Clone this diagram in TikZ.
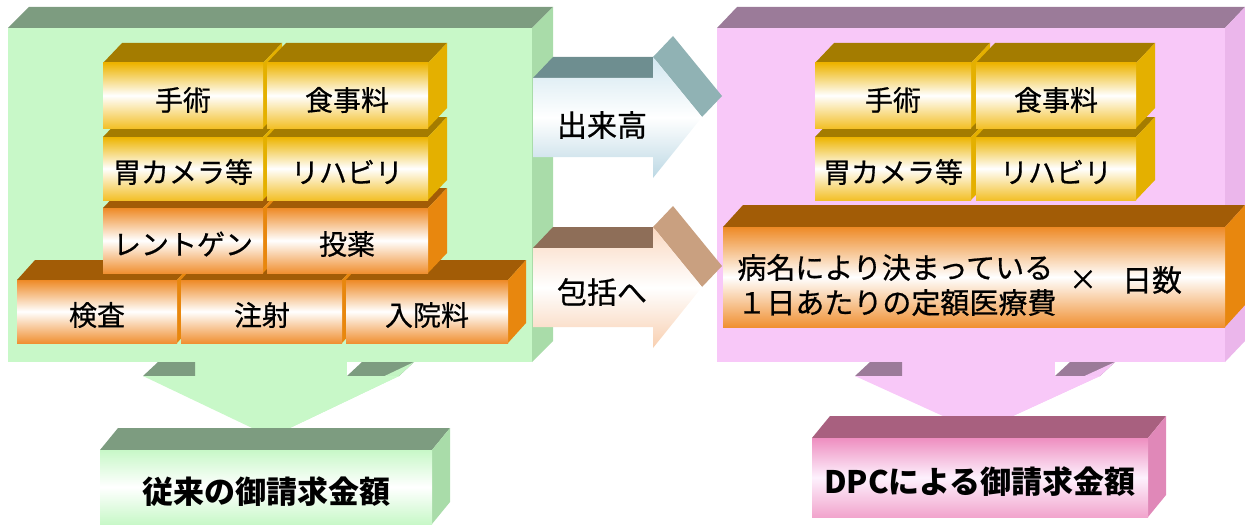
\documentclass[tikz,border=0pt]{standalone}
\usepackage{fontspec}
\setmainfont{Noto Sans CJK JP}
\newfontfamily\jpmed{Noto Sans CJK JP}[FakeBold=0.6]
\usepackage{tikz}
\definecolor{yelA}{HTML}{EDB400}
\definecolor{yelB}{HTML}{F3C028}
\definecolor{yelT}{HTML}{A47C00}
\definecolor{yelS}{HTML}{E4B000}
\definecolor{orgA}{HTML}{EE8A26}
\definecolor{orgB}{HTML}{F09032}
\definecolor{orgT}{HTML}{A25C06}
\definecolor{orgS}{HTML}{E8870E}
\definecolor{grnF}{HTML}{C8F8C8}
\definecolor{grnT}{HTML}{7D9C80}
\definecolor{grnS}{HTML}{A9DCA9}
\definecolor{pnkF}{HTML}{F8C8F8}
\definecolor{pnkT}{HTML}{9B7B99}
\definecolor{pnkS}{HTML}{EBB6EB}
\definecolor{dpcA}{HTML}{EE8EC0}
\definecolor{dpcT}{HTML}{A8607F}
\definecolor{dpcS}{HTML}{E088B8}
\definecolor{bluA}{HTML}{D2E7F0}
\definecolor{bluB}{HTML}{BCD8E4}
\definecolor{bluT}{HTML}{6E8E90}
\definecolor{bluS}{HTML}{90B2B4}
\definecolor{pchA}{HTML}{FAD8C0}
\definecolor{pchB}{HTML}{F8CFB0}
\definecolor{pchT}{HTML}{8E6E58}
\definecolor{pchS}{HTML}{C9A080}
\tikzset{
  yelfront/.style={top color=yelA,bottom color=yelB,middle color=white},
  yeltop/.style={fill=yelT},
  yelside/.style={fill=yelS},
  orgfront/.style={top color=orgA,bottom color=orgB,middle color=white},
  orgtop/.style={fill=orgT},
  orgside/.style={fill=orgS},
  grnfront/.style={fill=grnF},
  grntop/.style={fill=grnT},
  grnside/.style={fill=grnS},
  pnkfront/.style={fill=pnkF},
  pnktop/.style={fill=pnkT},
  pnkside/.style={fill=pnkS},
  gboxfront/.style={top color=grnF,bottom color=grnF,middle color=white},
  gboxtop/.style={fill=grnT},
  gboxside/.style={fill=grnS},
  pboxfront/.style={top color=dpcA,bottom color=dpcA!80,middle color=pnkF!25},
  pboxtop/.style={fill=dpcT},
  pboxside/.style={fill=dpcS},
  lbl/.style={inner sep=0pt,font=\jpmed\fontsize{14}{16}\selectfont},
  big/.style={inner sep=0pt,font=\fontsize{15.5}{18}\selectfont\bfseries}
}
% kind, x1, y1, x2, y2, depth x, depth y
\newcommand{\cuboid}[7]{%
  \path[#1top] (#2,#3) -- (#2+#6,#3-#7) -- (#4+#6,#3-#7) -- (#4,#3) -- cycle;
  \path[#1side] (#4,#3) -- (#4+#6,#3-#7) -- (#4+#6,#5-#7) -- (#4,#5) -- cycle;
  \path[#1front] (#2,#3) rectangle (#4,#5);
}

\begin{document}
\begin{tikzpicture}[x=0.5pt,y=-0.5pt]
\useasboundingbox (0,0) rectangle (1245,524);
% down arrows
\fill[grnF] (195,340) rectangle (347,377);
\fill[grnT] (143,376) -- (158,362) -- (195,362) -- (195,376) -- cycle;
\fill[grnT] (347,376) -- (362,362) -- (414,362) -- (399,376) -- cycle;
\fill[grnF!85!grnS] (399,376) -- (414,362) -- (286,423) -- (271,437) -- cycle;
\fill[grnF] (143,376) -- (399,376) -- (271,437) -- cycle;
\fill[pnkF] (902,340) rectangle (1055,377);
\fill[pnkT] (855,376) -- (870,362) -- (902,362) -- (902,376) -- cycle;
\fill[pnkT] (1055,376) -- (1070,362) -- (1115,362) -- (1100,376) -- cycle;
\fill[pnkF!85!pnkS] (1100,376) -- (1115,362) -- (993,418) -- (978,432) -- cycle;
\fill[pnkF] (855,376) -- (1100,376) -- (978,432) -- cycle;
% panels
\cuboid{grn}{8}{28}{532}{362}{21}{21}
\cuboid{pnk}{717}{28}{1225}{362}{20}{21}
% left blocks
\cuboid{org}{17}{280}{177}{343}{18}{20}
\cuboid{org}{181}{280}{342}{343}{18}{20}
\cuboid{org}{346}{280}{508}{343}{18}{20}
\cuboid{org}{103}{208}{263}{273}{19}{20}
\cuboid{org}{267}{208}{428}{273}{19}{20}
\cuboid{yel}{103}{137}{263}{200}{19}{20}
\cuboid{yel}{267}{137}{428}{200}{19}{20}
\cuboid{yel}{103}{63}{263}{128}{19}{20}
\cuboid{yel}{267}{63}{428}{128}{19}{20}
% right blocks
\cuboid{org}{723}{227}{1225}{327}{20}{22}
\cuboid{yel}{815}{137}{971}{200}{19}{20}
\cuboid{yel}{976}{137}{1136}{200}{19}{20}
\cuboid{yel}{815}{63}{971}{128}{19}{20}
\cuboid{yel}{976}{63}{1136}{128}{19}{20}
% side arrows
\fill[bluT] (533,78) -- (553,57) -- (655,57) -- (655,78) -- cycle;
\fill[bluS] (653,57) -- (673,36) -- (722,96) -- (702,117) -- cycle;
\shade[top color=bluA,bottom color=bluB,middle color=white]
  (533,78) -- (653,78) -- (653,57) -- (702,117) -- (653,178) -- (653,157) -- (533,157) -- cycle;
\fill[pchT] (533,248) -- (553,227) -- (655,227) -- (655,248) -- cycle;
\fill[pchS] (653,227) -- (673,206) -- (722,266) -- (702,287) -- cycle;
\shade[top color=pchA,bottom color=pchB,middle color=white]
  (533,248) -- (653,248) -- (653,227) -- (702,287) -- (653,348) -- (653,327) -- (533,327) -- cycle;
% result boxes
\cuboid{gbox}{100}{450}{432}{524}{18}{22}
\cuboid{pbox}{812}{438}{1148}{517}{18}{22}
% labels
\node[lbl] (lshujutsu) at (183,100) {手術};
\node[lbl] (lshokuji) at (347,100) {食事料};
\node[lbl] (lcamera) at (183,172) {胃カメラ等};
\node[lbl] (lrehab) at (347,172) {リハビリ};
\node[lbl] (lxray) at (183,244) {レントゲン};
\node[lbl] (ltoyaku) at (347,244) {投薬};
\node[lbl] (lkensa) at (97,315) {検査};
\node[lbl] (lchusha) at (262,315) {注射};
\node[lbl] (lnyuin) at (427,315) {入院料};
\node[lbl] (rshujutsu) at (893,100) {手術};
\node[lbl] (rshokuji) at (1056,100) {食事料};
\node[lbl] (rcamera) at (893,172) {胃カメラ等};
\node[lbl] (rrehab) at (1056,172) {リハビリ};
\node[lbl, anchor=west, align=left, font=\jpmed\fontsize{14.5}{17.5}\selectfont] (teigaku) at (737,285) {病名により決まっている\\１日あたりの定額医療費};
\node[lbl] (kakeru) at (1083,280) {×};
\node[lbl, font=\jpmed\fontsize{15}{17}\selectfont] (nissu) at (1152,280) {日数};
\node[lbl, font=\jpmed\fontsize{15}{17}\selectfont] (dekidaka) at (602,125) {出来高};
\node[lbl, font=\jpmed\fontsize{15}{17}\selectfont] (hokatsu) at (602,292) {包括へ};
\node[big] (juurai) at (266,492) {従来の御請求金額};
\node[big] (dpc) at (980,482) {DPCによる御請求金額};
\end{tikzpicture}
\end{document}
